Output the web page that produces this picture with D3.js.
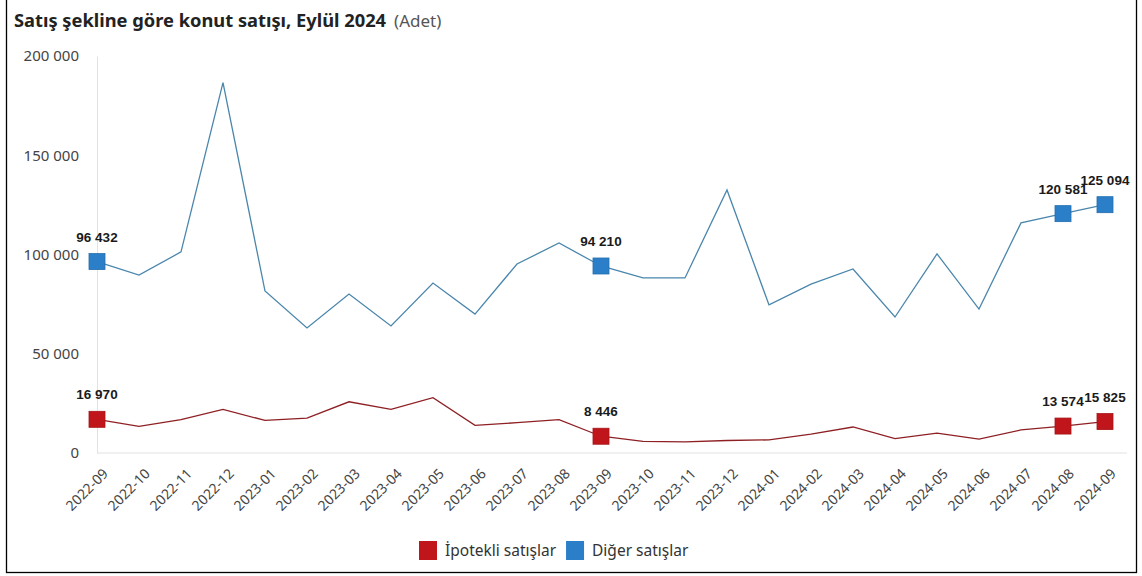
<!DOCTYPE html>
<html>
<head>
<meta charset="utf-8">
<script src="https://cdn.jsdelivr.net/npm/d3@7"></script>
<style>
  body { margin: 0; background: #fff; }
  svg { display: block; }
</style>
</head>
<body>
<div id="chart"></div>
<script>
// months on the x axis
var months = ["2022-09","2022-10","2022-11","2022-12","2023-01","2023-02","2023-03","2023-04",
  "2023-05","2023-06","2023-07","2023-08","2023-09","2023-10","2023-11","2023-12",
  "2024-01","2024-02","2024-03","2024-04","2024-05","2024-06","2024-07","2024-08","2024-09"];

// İpotekli satışlar (mortgaged)
var ipotekli = [16970, 13400, 16800, 22000, 16400, 17600, 25800, 22000, 27900, 13900, 15300, 16800,
  8446, 5900, 5600, 6300, 6600, 9500, 13100, 7200, 10000, 7000, 11600, 13574, 15825];

// Diğer satışlar (other)
var diger = [96432, 89600, 101300, 186600, 81600, 63000, 80100, 64000, 85600, 70000, 95200, 105800,
  94210, 88200, 88200, 132500, 74600, 85100, 92700, 68500, 100300, 72500, 115900, 120581, 125094];

var yTicks = [0, 50000, 100000, 150000, 200000];
var labelled = [0, 12, 23, 24];

var seriesNames = ["İpotekli satışlar", "Diğer satışlar"];
var lineColors = ["#8e2024", "#4a86ac"];
var markColors = ["#c0161b", "#2a7fc8"];

var svgWidth = 1142, svgHeight = 576;
var svg = d3.select("#chart").append("svg").attr("width", svgWidth).attr("height", svgHeight);

// outer frame
svg.append("rect").attr("x", 6.5).attr("y", -1).attr("width", 1130).attr("height", 573.5)
   .attr("fill", "none").attr("stroke", "#000").attr("stroke-width", 1.3);

// title
var title = svg.append("text").attr("x", 14).attr("y", 27)
   .style("font-family", "'Noto Sans', sans-serif").style("font-size", "18.3px");
title.append("tspan").attr("font-weight", "bold").attr("fill", "#222").text("Satış şekline göre konut satışı, Eylül 2024");
title.append("tspan").attr("fill", "#555").attr("dx", 8).style("font-size", "17px").text("(Adet)");

var xScale = d3.scalePoint().domain(months).range([97, 1105]);
var yScale = d3.scaleLinear().domain([0, 200000]).range([453, 56]);

var fmt = function(v) { return d3.format(",")(v).replace(/,/g, " "); };

// y axis
var yAxis = svg.append("g").attr("transform", "translate(97,0)")
   .call(d3.axisLeft(yScale).tickValues(yTicks).tickSize(0).tickPadding(18).tickFormat(fmt));
yAxis.select(".domain").attr("stroke", "#e2e2e2");
yAxis.selectAll("text").attr("fill", "#444")
   .style("font-family", "'Noto Sans', sans-serif").style("font-size", "15px");

// baseline
svg.append("line").attr("x1", 97).attr("x2", 1127).attr("y1", yScale(0)).attr("y2", yScale(0))
   .attr("stroke", "#e2e2e2");

// x axis
var xAxis = svg.append("g").attr("transform", "translate(0," + yScale(0) + ")")
   .call(d3.axisBottom(xScale).tickSize(0).tickPadding(0));
xAxis.select(".domain").remove();
xAxis.selectAll("text")
   .attr("fill", "#444")
   .style("font-family", "'Noto Sans', sans-serif").style("font-size", "14px")
   .attr("text-anchor", "end")
   .attr("dy", "0.35em")
   .attr("transform", "translate(8,18) rotate(-45)");

// lines
var lineGen = d3.line().x(function(d, i) { return xScale(months[i]); }).y(function(d) { return yScale(d); });
[ipotekli, diger].forEach(function(series, s) {
  svg.append("path").datum(series).attr("d", lineGen)
     .attr("fill", "none").attr("stroke", lineColors[s]).attr("stroke-width", 1.3);

  var pts = labelled.map(function(i) { return { i: i, v: series[i] }; });
  svg.selectAll(".mark" + s).data(pts).enter().append("rect").attr("class", "mark" + s)
     .attr("x", function(d) { return xScale(months[d.i]) - 8; })
     .attr("y", function(d) { return yScale(d.v) - 8; })
     .attr("width", 16).attr("height", 16)
     .attr("fill", markColors[s]).attr("stroke", d3.color(markColors[s]).darker(0.4)).attr("stroke-width", 0.8);

  svg.selectAll(".lbl" + s).data(pts).enter().append("text").attr("class", "lbl" + s)
     .attr("x", function(d) { return xScale(months[d.i]); })
     .attr("y", function(d) { return yScale(d.v) - 20; })
     .attr("text-anchor", "middle").attr("fill", "#1a1a1a")
     .style("font-family", "'Liberation Sans', Arial, sans-serif").style("font-weight", "bold").style("font-size", "13.5px")
     .text(function(d) { return fmt(d.v); });
});

// legend
var legend = svg.append("g").attr("transform", "translate(419,541)");
var lx = 0;
seriesNames.forEach(function(name, s) {
  legend.append("rect").attr("x", lx).attr("y", 0).attr("width", 18).attr("height", 19).attr("fill", markColors[s]);
  var t = legend.append("text").attr("x", lx + 26).attr("y", 15).attr("fill", "#333")
     .style("font-family", "'Noto Sans', sans-serif").style("font-size", "15.5px").text(name);
  lx += 26 + t.node().getComputedTextLength() + 10;
});
</script>
</body>
</html>
